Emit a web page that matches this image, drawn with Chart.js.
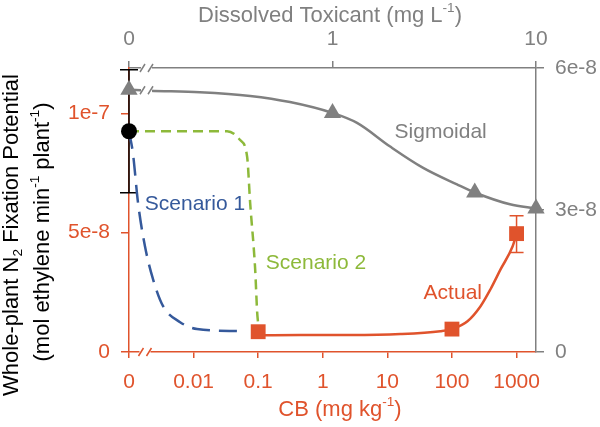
<!DOCTYPE html>
<html>
<head>
<meta charset="utf-8">
<script src="https://cdn.jsdelivr.net/npm/chart.js@4.4.1/dist/chart.umd.min.js"></script>
<style>
  body { margin: 0; background: #fff; }
  #wrap { width: 600px; height: 427px; position: relative; }
</style>
</head>
<body>
<div id="wrap"><canvas id="chart"></canvas></div>
<script>
const ORANGE = '#E0532C';
const GRAY = '#808080';
const BLUE = '#35599B';
const GREEN = '#8DB93A';
const FONT = "'Liberation Sans', Arial, sans-serif";

// ticks (the "0" of each log axis sits one decade below the first real tick)
const cbTicks = [0.001, 0.01, 0.1, 1, 10, 100, 1000];
const cbLabels = ['0', '0.01', '0.1', '1', '10', '100', '1000'];
const toxTicks = [0.1, 1, 10];
const toxLabels = ['0', '1', '10'];
const leftTicks = [0, 5e-8, 1e-7];
const leftLabels = ['0', '5e-8', '1e-7'];
const rightTicks = [0, 3e-8, 6e-8];
const rightLabels = ['0', '3e-8', '6e-8'];

// control plant (no CB)
const controlX = [0.001];
const controlY = [9.25e-8];
const controlLo = [6.67e-8];
const controlHi = [1.183e-7];

// measured points, CB in soil
const actualX = [0.1, 100, 1000];
const actualY = [8.5e-9, 9.6e-9, 4.96e-8];
const actualLo = [null, null, 4.17e-8];
const actualHi = [null, null, 5.71e-8];

// fitted "Actual" curve
const actualFitX = [0.1, 0.45, 2.7, 16, 66, 100, 174, 277, 395, 565, 867, 1000];
const actualFitY = [7.0e-9, 7.1e-9, 7.1e-9, 7.5e-9, 8.7e-9, 9.6e-9, 1.29e-8, 1.92e-8, 2.63e-8, 3.46e-8, 4.42e-8, 4.96e-8];

// dissolved toxicant points (top / right axes)
const sigX = [0.1, 1, 5, 10];
const sigY = [5.54e-8, 5.05e-8, 3.37e-8, 3.03e-8];
const sigFitX = [0.1, 0.127, 0.223, 0.394, 0.618, 1.0, 1.32, 1.92, 2.79, 4.09, 5.0, 7.45, 10];
const sigFitY = [5.54e-8, 5.52e-8, 5.49e-8, 5.41e-8, 5.28e-8, 5.05e-8, 4.84e-8, 4.34e-8, 3.89e-8, 3.54e-8, 3.37e-8, 3.12e-8, 3.03e-8];

// scenarios
const scen1X = [0.001, 0.00115, 0.00138, 0.00177, 0.00236, 0.00337, 0.00618, 0.0113, 0.0526];
const scen1Y = [9.25e-8, 8.33e-8, 6.25e-8, 4.42e-8, 3.04e-8, 1.92e-8, 1.25e-8, 9.6e-9, 8.75e-9];
const scen2X = [0.001, 0.033, 0.0526, 0.0675, 0.0751, 0.0898, 0.0964, 0.1];
const scen2Y = [9.25e-8, 9.25e-8, 8.88e-8, 8.17e-8, 6.25e-8, 3.46e-8, 1.67e-8, 1.17e-8];

const pts = (xs, ys) => xs.map((x, i) => ({ x: x, y: ys[i] }));

function richText(ctx, parts, size, color) {
  const fontFor = k => (k ? size * 0.62 : size) + 'px ' + FONT;
  let total = 0;
  parts.forEach(([t, k]) => { ctx.font = fontFor(k); total += ctx.measureText(t).width; });
  let x = -total / 2;
  ctx.fillStyle = color;
  ctx.textBaseline = 'middle';
  ctx.textAlign = 'left';
  parts.forEach(([t, k]) => {
    ctx.font = fontFor(k);
    const dy = k === 'sup' ? -size * 0.33 : k === 'sub' ? size * 0.28 : 0;
    ctx.fillText(t, x, dy);
    x += ctx.measureText(t).width;
  });
}

function errBars(ctx, xs, ys, xArr, lo, hi, color, cap) {
  ctx.save();
  ctx.strokeStyle = color;
  ctx.lineWidth = 1.5;
  xArr.forEach((v, i) => {
    if (lo[i] == null) return;
    const px = xs.getPixelForValue(v);
    const y1 = ys.getPixelForValue(lo[i]);
    const y2 = ys.getPixelForValue(hi[i]);
    ctx.beginPath();
    ctx.moveTo(px, y1); ctx.lineTo(px, y2);
    ctx.moveTo(px - cap, y1); ctx.lineTo(px + cap, y1);
    ctx.moveTo(px - cap, y2); ctx.lineTo(px + cap, y2);
    ctx.stroke();
  });
  ctx.restore();
}

function axisBreak(ctx, cx, cy, color) {
  ctx.save();
  ctx.fillStyle = '#fff';
  ctx.fillRect(cx - 6, cy - 3, 11, 6);
  ctx.strokeStyle = color;
  ctx.lineWidth = 1.5;
  ctx.beginPath();
  ctx.moveTo(cx - 7, cy + 4); ctx.lineTo(cx - 2, cy - 4);
  ctx.moveTo(cx + 1, cy + 4); ctx.lineTo(cx + 6, cy - 4);
  ctx.stroke();
  ctx.restore();
}

const extras = {
  id: 'extras',
  beforeDatasetsDraw(chart) {
    const s = chart.scales;
    errBars(chart.ctx, s.x, s.y, controlX, controlLo, controlHi, '#000', 9);
    errBars(chart.ctx, s.x, s.y, actualX, actualLo, actualHi, ORANGE, 7);
  },
  afterDraw(chart) {
    const ctx = chart.ctx;
    const s = chart.scales;
    const a = chart.chartArea;

    axisBreak(ctx, s.x.getPixelForValue(0.0018), a.bottom, ORANGE);
    axisBreak(ctx, s.x2.getPixelForValue(0.1226), a.top, GRAY);
    axisBreak(ctx, s.x2.getPixelForValue(0.1226), s.y2.getPixelForValue(5.53e-8), GRAY);

    // curve labels
    const labels = [
      ['Sigmoidal', s.x2, s.y2, 3.4, 4.65e-8, GRAY],
      ['Scenario 1', s.x, s.y, 0.0105, 6.2e-8, BLUE],
      ['Scenario 2', s.x, s.y, 0.785, 3.73e-8, GREEN],
      ['Actual', s.x, s.y, 103, 2.47e-8, ORANGE]
    ];
    ctx.save();
    ctx.font = '21px ' + FONT;
    ctx.textAlign = 'center';
    ctx.textBaseline = 'middle';
    labels.forEach(([t, sx, sy, vx, vy, c]) => {
      ctx.fillStyle = c;
      ctx.fillText(t, sx.getPixelForValue(vx), sy.getPixelForValue(vy));
    });
    ctx.restore();

    // axis titles
    ctx.save();
    ctx.translate(330, 16);
    richText(ctx, [['Dissolved Toxicant (mg L'], ['-1', 'sup'], [')']], 22, GRAY);
    ctx.restore();

    ctx.save();
    ctx.translate(340, 410);
    richText(ctx, [['CB (mg kg'], ['-1', 'sup'], [')']], 22, ORANGE);
    ctx.restore();

    ctx.save();
    ctx.translate(12, 235);
    ctx.rotate(-Math.PI / 2);
    richText(ctx, [['Whole-plant N'], ['2', 'sub'], [' Fixation Potential']], 22, '#000');
    ctx.restore();

    ctx.save();
    ctx.translate(43, 232);
    ctx.rotate(-Math.PI / 2);
    richText(ctx, [['(mol ethylene min'], ['-1', 'sup'], [' plant'], ['-1', 'sup'], [')']], 22, '#000');
    ctx.restore();
  }
};

function axisStyle(color, tickLen, pad) {
  return {
    grid: { drawOnChartArea: false, drawTicks: true, tickLength: tickLen, color: color, lineWidth: 1.5 },
    border: { display: true, color: color, width: 1.5 },
    ticks: { color: color, font: { size: 21, family: FONT }, padding: pad, autoSkip: false, maxRotation: 0 }
  };
}

const xCfg = axisStyle(ORANGE, 6, 12);
const x2Cfg = axisStyle(GRAY, 7, 9);
const yCfg = axisStyle(ORANGE, 8, 11);
const y2Cfg = axisStyle(GRAY, 8, 11);

new Chart(document.getElementById('chart'), {
  type: 'scatter',
  data: {
    datasets: [
      { data: pts(controlX, controlY), xAxisID: 'x', yAxisID: 'y', pointStyle: 'circle', pointRadius: 8,
        backgroundColor: '#000', borderColor: '#000', borderWidth: 0, order: 0 },
      { data: pts(actualX, actualY), xAxisID: 'x', yAxisID: 'y', pointStyle: 'rect', pointRadius: 10.5,
        backgroundColor: ORANGE, borderColor: ORANGE, borderWidth: 0, order: 0 },
      { data: pts(sigX, sigY), xAxisID: 'x2', yAxisID: 'y2', pointStyle: 'triangle', pointRadius: 10,
        backgroundColor: GRAY, borderColor: GRAY, borderWidth: 0, order: 0 },
      { data: pts(sigFitX, sigFitY), xAxisID: 'x2', yAxisID: 'y2', showLine: true, pointRadius: 0,
        borderColor: GRAY, borderWidth: 2.5, cubicInterpolationMode: 'monotone', order: 1 },
      { data: pts(actualFitX, actualFitY), xAxisID: 'x', yAxisID: 'y', showLine: true, pointRadius: 0,
        borderColor: ORANGE, borderWidth: 2.5, cubicInterpolationMode: 'monotone', order: 1 },
      { data: pts(scen1X, scen1Y), xAxisID: 'x', yAxisID: 'y', showLine: true, pointRadius: 0,
        borderColor: BLUE, borderWidth: 2.5, borderDash: [18, 9], cubicInterpolationMode: 'monotone', order: 2 },
      { data: pts(scen2X, scen2Y), xAxisID: 'x', yAxisID: 'y', showLine: true, pointRadius: 0,
        borderColor: GREEN, borderWidth: 2.5, borderDash: [10, 6], cubicInterpolationMode: 'monotone', order: 2 }
    ]
  },
  options: {
    responsive: true,
    maintainAspectRatio: false,
    animation: false,
    clip: false,
    layout: { padding: 0 },
    plugins: { legend: { display: false }, tooltip: { enabled: false } },
    scales: {
      x: Object.assign(xCfg, {
        type: 'logarithmic', position: 'bottom', min: 0.001, max: 2000,
        afterBuildTicks: s => { s.ticks = cbTicks.map(v => ({ value: v })); },
        afterFit: s => { s.height = 75; }
      }),
      x2: Object.assign(x2Cfg, {
        type: 'logarithmic', position: 'top', min: 0.1, max: 10,
        afterBuildTicks: s => { s.ticks = toxTicks.map(v => ({ value: v })); },
        afterFit: s => { s.height = 68; }
      }),
      y: Object.assign(yCfg, {
        type: 'linear', position: 'left', min: 0, max: 1.19e-7,
        afterBuildTicks: s => { s.ticks = leftTicks.map(v => ({ value: v })); },
        afterFit: s => { s.width = 129; }
      }),
      y2: Object.assign(y2Cfg, {
        type: 'linear', position: 'right', min: 0, max: 6e-8,
        afterBuildTicks: s => { s.ticks = rightTicks.map(v => ({ value: v })); },
        afterFit: s => { s.width = 64; }
      })
    }
  },
  plugins: [extras]
});

// tick label text comes from the label arrays
const chart = Chart.getChart('chart');
chart.options.scales.x.ticks.callback = (v, i) => cbLabels[i];
chart.options.scales.x2.ticks.callback = (v, i) => toxLabels[i];
chart.options.scales.y.ticks.callback = (v, i) => leftLabels[i];
chart.options.scales.y2.ticks.callback = (v, i) => rightLabels[i];
chart.data.datasets.forEach(d => { d.clip = false; });
chart.update();
</script>
</body>
</html>
